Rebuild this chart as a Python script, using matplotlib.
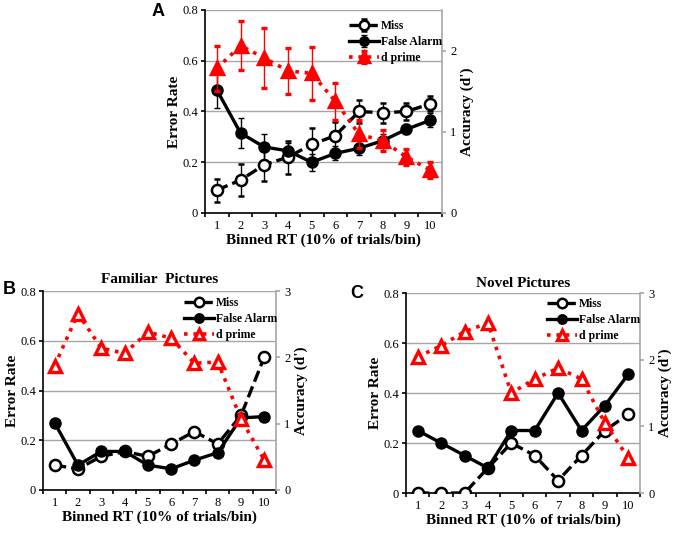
"""Error rate / d' by binned RT: panel A (all, with SE), B (familiar), C (novel)."""
import numpy as np
import matplotlib as mpl
mpl.use("Agg")
import matplotlib.pyplot as plt

plt.rcParams.update({
    "font.family": "serif", "font.serif": ["Liberation Serif", "DejaVu Serif"],
    "font.size": 9, "axes.linewidth": 1.2,
})

bins = np.arange(1, 11)
bin_labels = [str(b) for b in bins]

# Panel A (means +/- SE)
miss_a = [0.09, 0.13, 0.19, 0.22, 0.27, 0.305, 0.40, 0.395, 0.40, 0.43]
miss_a_err = [0.045, 0.062, 0.062, 0.065, 0.065, 0.055, 0.045, 0.04, 0.035, 0.03]
fa_a = [0.485, 0.315, 0.26, 0.245, 0.20, 0.235, 0.255, 0.285, 0.33, 0.365]
fa_a_err = [0.07, 0.06, 0.05, 0.03, 0.033, 0.028, 0.028, 0.025, 0.02, 0.028]
dp_a = [1.78, 2.06, 1.91, 1.75, 1.72, 1.375, 0.97, 0.89, 0.69, 0.53]
dp_a_err = [0.28, 0.30, 0.37, 0.28, 0.33, 0.23, 0.17, 0.13, 0.10, 0.10]

# Panel B: familiar pictures
miss_b = [0.10, 0.085, 0.135, 0.155, 0.135, 0.185, 0.235, 0.185, 0.30, 0.535]
fa_b = [0.27, 0.10, 0.155, 0.155, 0.10, 0.085, 0.12, 0.15, 0.29, 0.295]
dp_b = [1.875, 2.66, 2.14, 2.06, 2.38, 2.29, 1.91, 1.93, 1.07, 0.45]

# Panel C: novel pictures
miss_c = [0.0, 0.0, 0.0, 0.10, 0.20, 0.15, 0.05, 0.15, 0.25, 0.315]
fa_c = [0.25, 0.20, 0.15, 0.10, 0.25, 0.25, 0.40, 0.25, 0.35, 0.475]
dp_c = [2.04, 2.21, 2.42, 2.55, 1.50, 1.71, 1.875, 1.71, 1.05, 0.525]

W, H = 675, 533
fig = plt.figure(figsize=(W / 100, H / 100), dpi=100)


def px_axes(l, t, r, b):
    return fig.add_axes([l / W, 1 - b / H, (r - l) / W, (b - t) / H])


def panel(ax, miss, fa, dp, dmax, dticks, leg_xy, errs=None, dp_fill="red"):
    ax.set_xlim(0.5, 10.5)
    ax.set_ylim(0, 0.8)
    ax.set_yticks([0, 0.2, 0.4, 0.6, 0.8])
    ax.set_yticklabels(["0", "0.2", "0.4", "0.6", "0.8"])
    ax.set_xticks(bins)
    ax.set_xticklabels(bin_labels)
    ax.set_xticks(np.arange(0.5, 11, 1), minor=True)
    ax.tick_params(axis="x", which="major", length=0, pad=5)
    ax.tick_params(axis="x", which="minor", length=3, width=1.2, direction="out")
    ax.tick_params(axis="y", length=3, width=1.2, direction="out", pad=2)
    ax.grid(axis="y", color="#a6a6a6", lw=1)
    ax.set_axisbelow(True)
    for s in ("top", "right"):
        ax.spines[s].set_visible(False)
    ax.set_ylabel("Error Rate", fontsize=11, fontweight="bold", labelpad=1)
    ax.set_xlabel("Binned RT (10% of trials/bin)", fontsize=11, fontweight="bold",
                  labelpad=1)

    me, fe, de = errs if errs else (None, None, None)
    ax.errorbar(bins, miss, yerr=me, color="black", ls=(0, (3.5, 1.5)), lw=2.4,
                marker="o", ms=8, mfc="white", mec="black", mew=1.8,
                ecolor="black", elinewidth=1, capsize=2.5, label="Miss", zorder=3)
    ax.errorbar(bins, fa, yerr=fe, color="black", ls="-", lw=2.4,
                marker="o", ms=8, mfc="black", mec="black",
                ecolor="black", elinewidth=1, capsize=2.5, label="False Alarm", zorder=3)

    ax2 = ax.twinx()
    ax2.set_ylim(0, dmax)
    ax2.set_yticks(dticks)
    ax2.set_yticklabels([str(t) for t in dticks])
    ax2.tick_params(axis="y", length=3, width=1.2, direction="out", color="#a6a6a6", pad=3)
    for s in ("top", "left", "bottom"):
        ax2.spines[s].set_visible(False)
    ax2.spines["right"].set_color("#a6a6a6")
    ax2.set_ylabel("Accuracy (d')", fontsize=11, fontweight="bold", labelpad=3)
    ax2.errorbar(bins, dp, yerr=de, color="red", ls=(0, (1, 1.6)), lw=2.6,
                 marker="^", ms=8, mfc=dp_fill, mec="red", mew=2.4,
                 ecolor="red", elinewidth=1, capsize=2.5, label="d prime", zorder=3)

    h1, l1 = ax.get_legend_handles_labels()
    h2, l2 = ax2.get_legend_handles_labels()
    ax2.legend(h1 + h2, l1 + l2, loc="upper left", frameon=False,
               bbox_to_anchor=(leg_xy[0] / W, 1 - leg_xy[1] / H),
               bbox_transform=fig.transFigure, borderpad=0, borderaxespad=0,
               handlelength=2.5, handletextpad=0.2, labelspacing=0.35,
               numpoints=1, markerscale=0.85, prop={"weight": "bold", "size": 8.5})
    return ax2


# --- A ---------------------------------------------------------------
axA = px_axes(205, 10, 442, 213)
panel(axA, miss_a, fa_a, dp_a, 2.5, [0, 1, 2], (349, 20),
      errs=(miss_a_err, fa_a_err, dp_a_err), dp_fill="red")

# --- B ---------------------------------------------------------------
axB = px_axes(43, 291, 276, 490)
panel(axB, miss_b, fa_b, dp_b, 3, [0, 1, 2, 3], (184, 297), dp_fill="white")
axB.set_title("Familiar  Pictures", fontsize=11, fontweight="bold", pad=6)

# --- C ---------------------------------------------------------------
axC = px_axes(406, 293, 640, 493)
panel(axC, miss_c, fa_c, dp_c, 3, [0, 1, 2, 3], (547, 298), dp_fill="white")
axC.set_title("Novel Pictures", fontsize=11, fontweight="bold", pad=4)

for letter, x, y in (("A", 152, 12), ("B", 3, 290), ("C", 350, 294)):
    fig.text(x / W, 1 - y / H, letter, fontsize=13, fontweight="bold",
             family="Liberation Sans", ha="left", va="center")

fig.savefig("out.png", dpi=100)
